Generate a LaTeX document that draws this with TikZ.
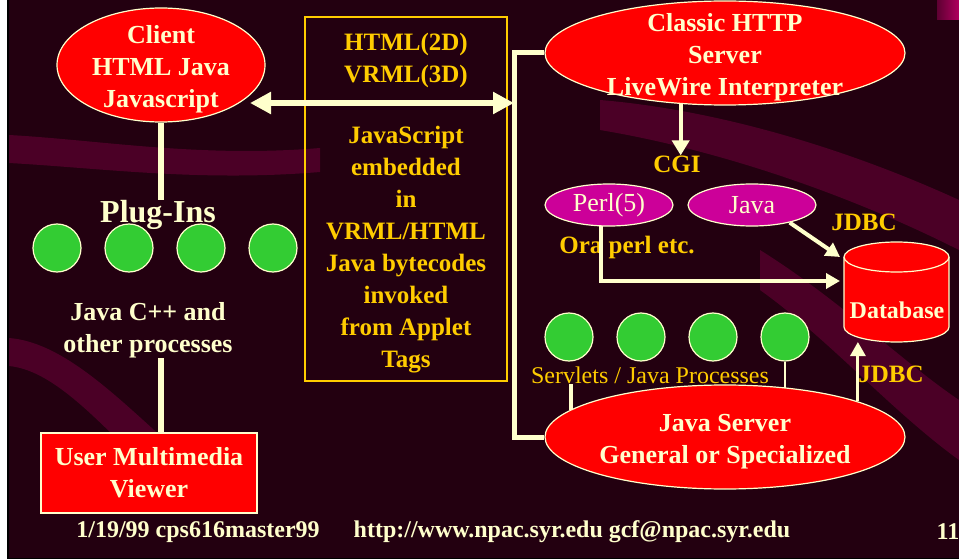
\documentclass[tikz,border=0pt]{standalone}
\usepackage{fontspec}
\setmainfont{Liberation Serif}
\usetikzlibrary{arrows, arrows.meta, shapes.geometric}

\definecolor{cream}{HTML}{FFFFCC}
\definecolor{gold}{HTML}{FFCC00}
\definecolor{bgdark}{HTML}{230010}
\definecolor{bgmid}{HTML}{5E0032}
\definecolor{bandcol}{HTML}{5C0030}
\definecolor{procgreen}{HTML}{33CC33}
\definecolor{cgimag}{HTML}{CC0099}
\definecolor{cornerpink}{HTML}{B0005E}

\tikzset{
  bigtxt/.style={text=cream, inner sep=0pt, align=center, font=\bfseries\fontsize{26}{32}\selectfont},
  goldtxt/.style={text=gold, inner sep=0pt, align=center, font=\bfseries\fontsize{25}{32}\selectfont},
  foot/.style={text=cream, inner sep=0pt, font=\bfseries\fontsize{24}{28}\selectfont},
  redoval/.style={ellipse, draw=cream, fill=red, line width=1.2pt, inner sep=0pt},
  redbox/.style={rectangle, draw=cream, fill=red, line width=1.2pt, text=cream, align=center, font=\bfseries\fontsize{26}{32}\selectfont},
  midbox/.style={rectangle, draw=gold, line width=2pt},
  magoval/.style={ellipse, draw=cream, fill=cgimag, line width=1.2pt, minimum width=128pt, minimum height=42pt, inner sep=0pt, text=cream, font=\fontsize{26}{30}\selectfont},
  proc/.style={circle, draw=cream, fill=procgreen, line width=1.2pt, minimum size=48pt, inner sep=0pt},
  dbbody/.style={rectangle, minimum width=105pt, minimum height=70pt, inner sep=0pt, outer sep=0pt},
  link/.style={cream, line width=6pt},
  thinlink/.style={cream, line width=4pt},
  dbltip/.style={{Triangle[length=21pt,width=21pt]}-{Triangle[length=21pt,width=21pt]}},
  midtip/.style={-{Triangle[length=15pt,width=17pt]}},
  smalltip/.style={-{Triangle[length=14pt,width=15pt]}},
  band/.style={fill=bandcol, opacity=0.7},
}

\begin{document}
\begin{tikzpicture}[x=1pt, y=-1pt]
\useasboundingbox (0,0) rectangle (959,559);
% background
\fill[white] (0,0) rectangle (7,559);
\fill[black] (7,0) rectangle (959,559);
\shade[left color=bgdark, middle color=bgmid, right color=bgdark] (9,0) rectangle (959,557);
\fill[band] (9,135) .. controls (100,140) and (200,158) .. (320,148) -- (320,172) .. controls (200,182) and (100,168) .. (9,163) -- cycle;
\fill[band] (9,338) .. controls (60,342) and (110,390) .. (165,440) -- (140,462) .. controls (90,412) and (50,370) .. (9,366) -- cycle;
\fill[band] (600,100) .. controls (720,110) and (850,150) .. (959,200) -- (959,250) .. controls (850,195) and (720,150) .. (600,130) -- cycle;
\fill[band] (760,250) .. controls (840,300) and (900,360) .. (959,400) -- (959,460) .. controls (890,410) and (830,340) .. (760,290) -- cycle;
\shade[left color=bgmid, right color=cornerpink] (937,0) rectangle (959,20);

% client side
\node[redoval, minimum width=208pt, minimum height=114pt] (client) at (161,65) {};
\node[bigtxt] (clienttxt) at (161,69) {Client\\HTML Java\\Javascript};
\node[bigtxt, font=\bfseries\fontsize{32}{36}\selectfont] (plugins) at (158,215) {Plug-Ins};
\draw[link] (client.south) -- (client.south |- plugins.north);
\foreach \i/\x in {1/57,2/129,3/201,4/273}
  \node[proc] (plug\i) at (\x,248) {};
\node[bigtxt] (others) at (148,330) {Java C++ and\\other processes};
\node[redbox, minimum width=216pt, minimum height=80pt] (viewer) at (149,473) {User Multimedia\\Viewer};
\draw[link] (viewer.north -| client.south) -- (client.south |- others.south);

% middle box
\node[midbox, minimum width=202pt, minimum height=364pt] (mid) at (406,199) {};
\node[goldtxt] (markup) at (406,60) {HTML(2D)\\VRML(3D)};
\node[goldtxt] (embed) at (406,250) {JavaScript\\embedded\\in\\VRML/HTML\\Java bytecodes\\invoked\\from Applet\\Tags};

% servers
\coordinate (bus) at (514,250);
\coordinate (clientport) at (250,103);
\draw[link, dbltip] (clientport) -- (clientport -| bus);
\node[redoval, minimum width=360pt, minimum height=104pt] (http) at (725,53) {};
\node[bigtxt] (httptxt) at (725,57) {Classic HTTP\\Server\\LiveWire Interpreter};
\node[redoval, minimum width=360pt, minimum height=104pt] (jsrv) at (725,437) {};
\node[bigtxt] (jsrvtxt) at (725,442) {Java Server\\General or Specialized};
\draw[link, line width=5pt] (http.west) -| (bus) |- (jsrv.west);

% cgi
\node[goldtxt] (cgi) at (677,164) {CGI};
\draw[thinlink, midtip] (http.229) -- (http.229 |- cgi.north);
\node[magoval] (perl) at (609,205) {Perl(5)};
\node[magoval] (javacgi) at (752,205) {Java};
\node[goldtxt] (oraperl) at (627,247) {Ora perl etc.};

% database
\node[dbbody] (db) at (896.5,292) {};
\fill[red] (db.south) ellipse [x radius=52.5, y radius=15];
\fill[red] (db.north west) rectangle (db.south east);
\draw[cream, line width=1.2pt] (db.north west) -- (db.south west)
  arc[start angle=180, end angle=0, x radius=52.5, y radius=15] -- (db.north east);
\draw[cream, fill=red, line width=1.2pt] (db.north) ellipse [x radius=52.5, y radius=15];
\node[bigtxt, font=\bfseries\fontsize{24}{28}\selectfont] (dbtxt) at (897,310) {Database};
\draw[thinlink, smalltip] (perl.249) |- ([shift={(-4,-11)}]db.west);
\draw[thinlink, smalltip] (javacgi.-25) -- ([xshift=-4pt]db.north west);
\node[goldtxt] (jdbc1) at (864,222) {JDBC};
\draw[cream, line width=3pt, smalltip] (jsrv.15) -- ([yshift=-15pt]db.south -| jsrv.15);
\node[goldtxt] (jdbc2) at (891,374) {JDBC};

% servlets
\foreach \i/\x in {1/569,2/641,3/713,4/785}
  \node[proc] (srv\i) at (\x,337) {};
\node[goldtxt, font=\fontsize{24}{28}\selectfont] (servlets) at (650,375) {Servlets / Java Processes};
\draw[thinlink] (jsrv.170) -- (jsrv.170 |- servlets.south);
\draw[cream, line width=2pt] (srv4.south) -- (srv4.south |- jsrv.39);

% footer
\node[foot] (date) at (198,532) {1/19/99 cps616master99};
\node[foot] (url) at (572,532) {http://www.npac.syr.edu gcf@npac.syr.edu};
\node[foot] (page) at (948,532) {11};
\end{tikzpicture}
\end{document}
